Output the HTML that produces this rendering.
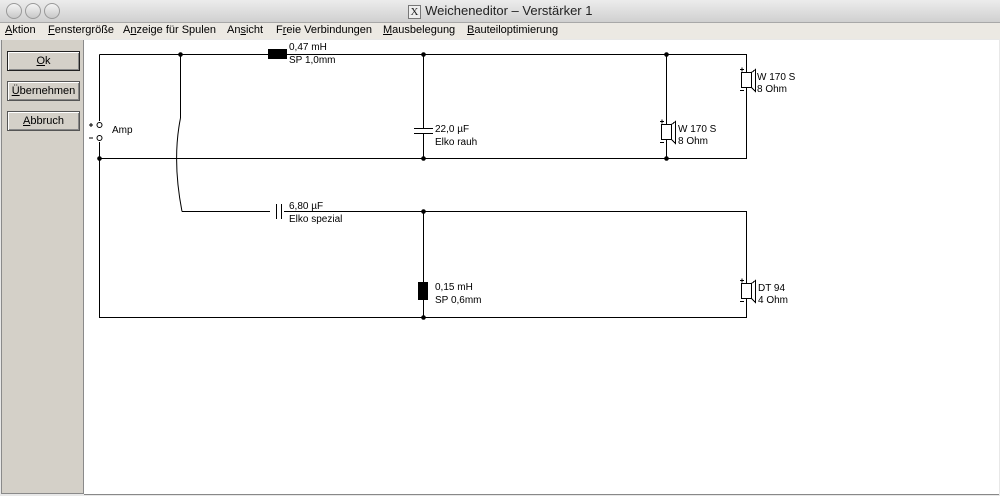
<!DOCTYPE html>
<html><head><style>
body{margin:0;width:1000px;height:496px;overflow:hidden;background:#e8e8e8;font-family:"Liberation Sans",sans-serif;position:relative}
#title{position:absolute;left:0;top:0;width:1000px;height:22px;background:linear-gradient(#ececec,#d0d0d0);border-bottom:1px solid #a8a8a8}
#title .t{position:absolute;left:0;width:1000px;top:3px;text-align:center;font-size:13px;color:#222}
.c{position:absolute;top:3px;width:14px;height:14px;border-radius:50%;border:1px solid #999;background:linear-gradient(#f4f4f4,#c8c8c8)}
#menu{position:absolute;left:0;top:23px;width:1000px;height:16px;background:#ece9e3;font-size:11px;color:#000}
#menu span{position:absolute;top:1px}
#left{position:absolute;left:1px;top:40px;width:81px;height:453px;background:#d4d0c8;border:1px solid #8a8a8a;border-top:none}
.b{position:absolute;left:5px;width:71px;height:18px;border:1px solid #555;background:#d4d0c8;box-shadow:inset 1px 1px #fff,inset -1px -1px #888;font-size:11px;text-align:center;line-height:18px}
#canvas{position:absolute;left:84px;top:40px;width:915px;height:454px;background:#fff;border-bottom:1px solid #888}
svg{position:absolute;left:0;top:0}
svg text{font-family:"Liberation Sans",sans-serif;font-size:10px;fill:#000}
</style></head><body>
<div id="title"><div class="c" style="left:6px"></div><div class="c" style="left:25px"></div><div class="c" style="left:44px"></div>
<div class="t"><span style="border:1px solid #777;font-family:'Liberation Serif',serif;font-size:11px;padding:0 2px;background:#eee">X</span> Weicheneditor – Verstärker 1</div></div>
<div id="menu"><span style="left:5px"><u>A</u>ktion</span><span style="left:48px"><u>F</u>enstergröße</span><span style="left:123px">A<u>n</u>zeige für Spulen</span><span style="left:227px">An<u>s</u>icht</span><span style="left:276px">F<u>r</u>eie Verbindungen</span><span style="left:383px"><u>M</u>ausbelegung</span><span style="left:467px"><u>B</u>auteiloptimierung</span></div>
<div id="left">
<div class="b" style="top:11px;border-color:#222"><u>O</u>k</div>
<div class="b" style="top:41px"><u>Ü</u>bernehmen</div>
<div class="b" style="top:71px"><u>A</u>bbruch</div>
</div>
<div id="canvas"></div>
<svg width="1000" height="496" stroke="#000" stroke-width="1" fill="none">
<g shape-rendering="crispEdges">
<path d="M99.5 54.5H746.5V158.5H99.5M99.5 54.5V121M99.5 142V317.5H746.5V211.5H182"/>
<path d="M180.5 54.5V118"/>
<path d="M423.5 54.5V128M423.5 133V158.5M666.5 54.5V158.5M423.5 211.5V317.5"/>
</g>
<path d="M180.5 118 Q172 160 182 211.5"/>
<g fill="#000" stroke="none">
<circle cx="180.5" cy="54.5" r="2.3"/><circle cx="423.5" cy="54.5" r="2.3"/><circle cx="666.5" cy="54.5" r="2.3"/>
<circle cx="99.5" cy="158.5" r="2.3"/><circle cx="423.5" cy="158.5" r="2.3"/><circle cx="666.5" cy="158.5" r="2.3"/>
<circle cx="423.5" cy="211.5" r="2.3"/><circle cx="423.5" cy="317.5" r="2.3"/>
<rect x="268" y="49" width="19" height="10"/>
<rect x="418" y="282" width="10" height="18"/>
</g>
<circle cx="99.5" cy="125" r="2.5" fill="#fff"/><circle cx="99.5" cy="138" r="2.5" fill="#fff"/>
<path d="M89 125H93M91 123V127M89 138H93" />
<path d="M414 128.5H433M414 133.5H433" shape-rendering="crispEdges"/>
<rect x="270" y="207" width="14" height="9" fill="#fff" stroke="none"/>
<path d="M276.5 204V219M281.5 204V219" shape-rendering="crispEdges"/>
<g id="spk" shape-rendering="crispEdges">
<rect x="741.5" y="72.5" width="10" height="15" fill="#fff"/>
<path d="M751.5 72.5L755.5 69.5V91.5L751.5 87.5M740 69.5H744M742 67.5V71.5M740 90.5H744"/>
</g>
<use href="#spk" x="-80" y="52"/>
<use href="#spk" x="0" y="211"/>
<g stroke="none">
<text x="289" y="50">0,47 mH</text><text x="289" y="63">SP 1,0mm</text>
<text x="112" y="133">Amp</text>
<text x="435" y="132">22,0 µF</text><text x="435" y="145">Elko rauh</text>
<text x="757" y="80">W 170 S</text><text x="757" y="92">8 Ohm</text>
<text x="678" y="132">W 170 S</text><text x="678" y="144">8 Ohm</text>
<text x="289" y="209">6,80 µF</text><text x="289" y="222">Elko spezial</text>
<text x="435" y="290">0,15 mH</text><text x="435" y="303">SP 0,6mm</text>
<text x="758" y="291">DT 94</text><text x="758" y="303">4 Ohm</text>
</g>
</svg>
</body></html>
